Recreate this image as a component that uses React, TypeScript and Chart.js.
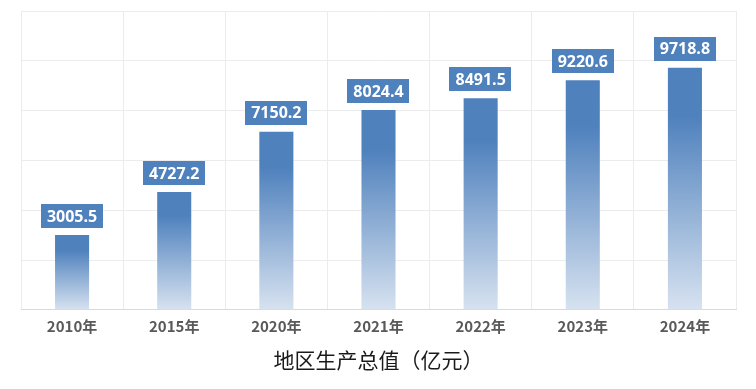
import React, { useEffect, useRef } from "react";
import { Chart, registerables } from "chart.js";

Chart.register(...registerables);

const categories = ["2010年", "2015年", "2020年", "2021年", "2022年", "2023年", "2024年"];
const values = [3005.5, 4727.2, 7150.2, 8024.4, 8491.5, 9220.6, 9718.8];
const axisTitle = "地区生产总值（亿元）";
const yMax = 12000;
const yStep = 2000;

const BLUE = "#4f81bd";
const LIGHT = "#d7e2f0";

const labelPlugin = {
  id: "boxLabels",
  afterDatasetsDraw(chart: any) {
    const ctx = chart.ctx;
    const meta = chart.getDatasetMeta(0);
    ctx.save();
    ctx.font = "bold 16px 'Open Sans', 'Noto Sans CJK SC', sans-serif";
    ctx.textAlign = "center";
    ctx.textBaseline = "middle";
    meta.data.forEach((el: any, i: number) => {
      const text = values[i].toFixed(1);
      const w = ctx.measureText(text).width + 12;
      const h = 24;
      const x = el.x;
      const bottom = el.y - 7;
      ctx.fillStyle = BLUE;
      ctx.fillRect(Math.round(x - w / 2), Math.round(bottom - h), Math.round(w), h);
      ctx.fillStyle = "#ffffff";
      ctx.fillText(text, x, bottom - h / 2 + 1);
    });
    ctx.restore();
  },
};

export default function App() {
  const ref = useRef<HTMLCanvasElement | null>(null);
  useEffect(() => {
    if (!ref.current) return;
    const chart = new Chart(ref.current, {
      type: "bar",
      data: {
        labels: categories,
        datasets: [
          {
            data: values,
            backgroundColor: (c: any) => {
              const ch = c.chart;
              const area = ch.chartArea;
              if (!area || c.raw == null) return BLUE;
              const y = ch.scales.y;
              const top = y.getPixelForValue(c.raw);
              const bot = y.getPixelForValue(0);
              const g = ch.ctx.createLinearGradient(0, top, 0, bot);
              g.addColorStop(0, BLUE);
              g.addColorStop(0.2, BLUE);
              g.addColorStop(1, LIGHT);
              return g;
            },
            borderWidth: 0,
            barPercentage: 0.5,
            categoryPercentage: 0.667,
          },
        ],
      },
      options: {
        animation: false,
        responsive: true,
        maintainAspectRatio: false,
        devicePixelRatio: 1,
        layout: { padding: { left: 21, right: 20, top: 11, bottom: 16 } },
        plugins: { legend: { display: false }, tooltip: { enabled: false } },
        scales: {
          x: {
            grid: { color: "#ececec", offset: true, drawTicks: false },
            border: { color: "#d9d9d9" },
            ticks: {
              color: "#595959",
              padding: 7,
              font: { family: "'Noto Sans CJK SC', sans-serif", size: 15, weight: "bold" },
            },
            title: {
              display: true,
              text: axisTitle,
              color: "#1a1a1a",
              font: { family: "'Noto Sans CJK SC', sans-serif", size: 21 },
              padding: { top: 6, bottom: 0 },
            },
          },
          y: {
            min: 0,
            max: yMax,
            ticks: { display: false, stepSize: yStep },
            grid: { color: "#ececec", drawTicks: false },
            border: { display: false },
          },
        },
      },
      plugins: [labelPlugin],
    } as any);
    return () => chart.destroy();
  }, []);
  return (
    <div style={{ position: "fixed", left: 0, top: 0, width: 756, height: 389, background: "#fff" }}>
      <canvas ref={ref} />
    </div>
  );
}
